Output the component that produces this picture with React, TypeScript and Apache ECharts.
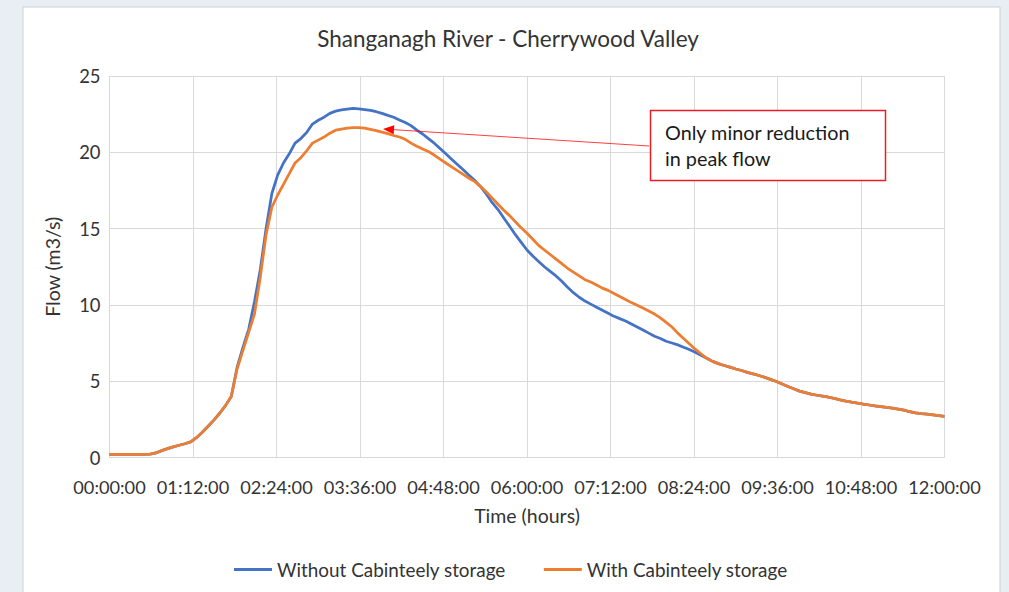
import React, { useEffect, useRef } from "react";
import * as echarts from "echarts";

// Time grid (minutes from start), 5-minute steps from 00:00:00 to 12:00:00
const timeMinutes: number[] = Array.from({ length: 145 }, (_, i) => i * 5);

// Flow (m3/s), one value per 5 minutes
const withoutStorage: number[] = [
  0.2, 0.2, 0.2, 0.2, 0.2, 0.2, 0.2, 0.22, 0.3, 0.45,
  0.58, 0.7, 0.8, 0.9, 1.02, 1.3, 1.65, 2.05, 2.45, 2.9,
  3.4, 4.0, 5.9, 7.2, 8.4, 10.2, 12.3, 15.0, 17.3, 18.5,
  19.3, 19.9, 20.6, 20.9, 21.3, 21.85, 22.1, 22.3, 22.55, 22.7,
  22.78, 22.83, 22.88, 22.85, 22.8, 22.75, 22.66, 22.55, 22.42, 22.3,
  22.12, 21.95, 21.75, 21.45, 21.2, 20.9, 20.6, 20.25, 19.9, 19.55,
  19.2, 18.85, 18.5, 18.15, 17.75, 17.25, 16.7, 16.25, 15.7, 15.15,
  14.6, 14.1, 13.6, 13.2, 12.85, 12.5, 12.2, 11.9, 11.55, 11.15,
  10.8, 10.5, 10.25, 10.05, 9.85, 9.65, 9.45, 9.25, 9.1, 8.95,
  8.75, 8.55, 8.35, 8.15, 7.95, 7.8, 7.62, 7.5, 7.38, 7.23,
  7.08, 6.9, 6.7, 6.5, 6.3, 6.15, 6.03, 5.92, 5.8, 5.7,
  5.58, 5.48, 5.37, 5.25, 5.12, 4.98, 4.82, 4.65, 4.5, 4.35,
  4.25, 4.15, 4.08, 4.02, 3.95, 3.87, 3.78, 3.7, 3.63, 3.57,
  3.5, 3.44, 3.38, 3.33, 3.28, 3.23, 3.17, 3.1, 3.0, 2.92,
  2.87, 2.84, 2.8, 2.75, 2.7,
];

const withStorage: number[] = [
  0.2, 0.2, 0.2, 0.2, 0.2, 0.2, 0.2, 0.22, 0.3, 0.45,
  0.58, 0.7, 0.8, 0.9, 1.02, 1.3, 1.65, 2.05, 2.45, 2.9,
  3.4, 4.0, 5.8, 7.0, 8.2, 9.4, 11.8, 14.6, 16.4, 17.2,
  17.9, 18.6, 19.3, 19.65, 20.1, 20.6, 20.8, 21.0, 21.25, 21.45,
  21.52, 21.58, 21.62, 21.62, 21.58, 21.5, 21.42, 21.32, 21.22, 21.1,
  21.0, 20.85, 20.6, 20.4, 20.22, 20.05, 19.82, 19.55, 19.3, 19.05,
  18.8, 18.55, 18.3, 18.08, 17.75, 17.4, 17.0, 16.6, 16.2, 15.85,
  15.45, 15.05, 14.7, 14.3, 13.9, 13.6, 13.3, 13.0, 12.7, 12.4,
  12.15, 11.9, 11.65, 11.5, 11.3, 11.1, 10.95, 10.75, 10.55, 10.35,
  10.15, 9.98, 9.8, 9.6, 9.4, 9.15, 8.85, 8.55, 8.15, 7.8,
  7.45, 7.1, 6.8, 6.5, 6.3, 6.15, 6.03, 5.92, 5.8, 5.7,
  5.58, 5.48, 5.37, 5.25, 5.12, 4.98, 4.82, 4.65, 4.5, 4.35,
  4.25, 4.15, 4.08, 4.02, 3.95, 3.87, 3.78, 3.7, 3.63, 3.57,
  3.5, 3.44, 3.38, 3.33, 3.28, 3.23, 3.17, 3.1, 3.0, 2.92,
  2.87, 2.84, 2.8, 2.75, 2.7,
];

const seriesNames = ["Without Cabinteely storage", "With Cabinteely storage"];
const titleText = "Shanganagh River - Cherrywood Valley";
const xAxisName = "Time (hours)";
const yAxisName = "Flow (m3/s)";
const annotationLines = ["Only minor reduction", "in peak flow"];

const FONT = "Lato";
const TXT = "#333333";

function fmtTime(m: number): string {
  const h = Math.floor(m / 60);
  const mm = Math.round(m % 60);
  const p = (n: number) => (n < 10 ? "0" + n : "" + n);
  return `${p(h)}:${p(mm)}:00`;
}

export default function App() {
  const ref = useRef<HTMLDivElement>(null);

  useEffect(() => {
    if (!ref.current) return;
    const chart = echarts.init(ref.current, undefined, { renderer: "svg" });

    // arrow geometry (annotation)
    const tip = [383, 129];
    const start = [649, 146];
    const dx = start[0] - tip[0];
    const dy = start[1] - tip[1];
    const len = Math.sqrt(dx * dx + dy * dy);
    const ux = dx / len, uy = dy / len;
    const headL = 11, headW = 4.5;
    const bx = tip[0] + ux * headL, by = tip[1] + uy * headL;
    const px = -uy, py = ux;

    chart.setOption({
      animation: false,
      backgroundColor: "#e9eef4",
      title: {
        text: titleText,
        left: 508,
        textAlign: "center",
        top: 27,
        padding: 0,
        textStyle: { fontFamily: FONT, fontSize: 22.5, fontWeight: "normal", color: TXT },
      },
      graphic: [
        {
          type: "rect",
          z: -10,
          silent: true,
          shape: { x: 23, y: 7, width: 977, height: 600 },
          style: { fill: "#ffffff", stroke: "#d0d0d0", lineWidth: 1 },
        },
        {
          type: "line",
          z: 100,
          silent: true,
          shape: { x1: start[0], y1: start[1], x2: bx, y2: by },
          style: { stroke: "#ff0000", lineWidth: 1, opacity: 0.75 },
        },
        {
          type: "polygon",
          z: 100,
          silent: true,
          shape: {
            points: [
              [tip[0], tip[1]],
              [bx + px * headW, by + py * headW],
              [bx - px * headW, by - py * headW],
            ],
          },
          style: { fill: "#ff0000" },
        },
        {
          type: "rect",
          z: 100,
          silent: true,
          shape: { x: 650.5, y: 110.5, width: 235, height: 70 },
          style: { fill: "#ffffff", stroke: "#ee1c25", lineWidth: 1.5 },
        },
        {
          type: "text",
          z: 101,
          silent: true,
          x: 665,
          y: 132,
          style: {
            text: annotationLines[0],
            fontFamily: FONT,
            fontSize: 19.8,
            fill: "#1a1a1a",
            verticalAlign: "middle",
          },
        },
        {
          type: "text",
          z: 101,
          silent: true,
          x: 665,
          y: 158,
          style: {
            text: annotationLines[1],
            fontFamily: FONT,
            fontSize: 19.8,
            fill: "#1a1a1a",
            verticalAlign: "middle",
          },
        },
      ],
      legend: {
        left: 234,
        top: 560,
        padding: 0,
        icon: "rect",
        itemWidth: 38,
        itemHeight: 3,
        itemGap: 38,
        textStyle: { fontFamily: FONT, fontSize: 18.9, color: TXT },
        data: seriesNames,
      },
      grid: { left: 109.5, right: 64.5, top: 76, bottom: 134.5, containLabel: false },
      xAxis: {
        type: "value",
        min: 0,
        max: 720,
        interval: 72,
        name: xAxisName,
        nameLocation: "middle",
        nameGap: 48,
        nameTextStyle: { fontFamily: FONT, fontSize: 19.5, color: TXT },
        axisLine: { show: true, lineStyle: { color: "#d9d9d9", width: 1 } },
        axisTick: { show: false },
        axisLabel: {
          margin: 20,
          fontFamily: FONT,
          fontSize: 18.2,
          color: TXT,
          formatter: (v: number) => fmtTime(v),
        },
        splitLine: { show: true, lineStyle: { color: "#d9d9d9", width: 1 } },
      },
      yAxis: {
        type: "value",
        min: 0,
        max: 25,
        interval: 5,
        name: yAxisName,
        nameLocation: "middle",
        nameGap: 47,
        nameRotate: 90,
        nameTextStyle: { fontFamily: FONT, fontSize: 19.5, color: TXT },
        axisLine: { show: false },
        axisTick: { show: false },
        axisLabel: { margin: 9, fontFamily: FONT, fontSize: 18.4, color: TXT },
        splitLine: { show: true, lineStyle: { color: "#d9d9d9", width: 1 } },
      },
      series: [
        {
          name: seriesNames[0],
          type: "line",
          showSymbol: false,
          symbol: "none",
          lineStyle: { color: "#4472c4", width: 2.75 },
          itemStyle: { color: "#4472c4" },
          data: timeMinutes.map((t, i) => [t, withoutStorage[i]]),
        },
        {
          name: seriesNames[1],
          type: "line",
          showSymbol: false,
          symbol: "none",
          lineStyle: { color: "#ed7d31", width: 2.75 },
          itemStyle: { color: "#ed7d31" },
          data: timeMinutes.map((t, i) => [t, withStorage[i]]),
        },
      ],
    });
    return () => chart.dispose();
  }, []);

  return (
    <div
      ref={ref}
      style={{ position: "fixed", left: 0, top: 0, width: 1009, height: 592 }}
    />
  );
}
